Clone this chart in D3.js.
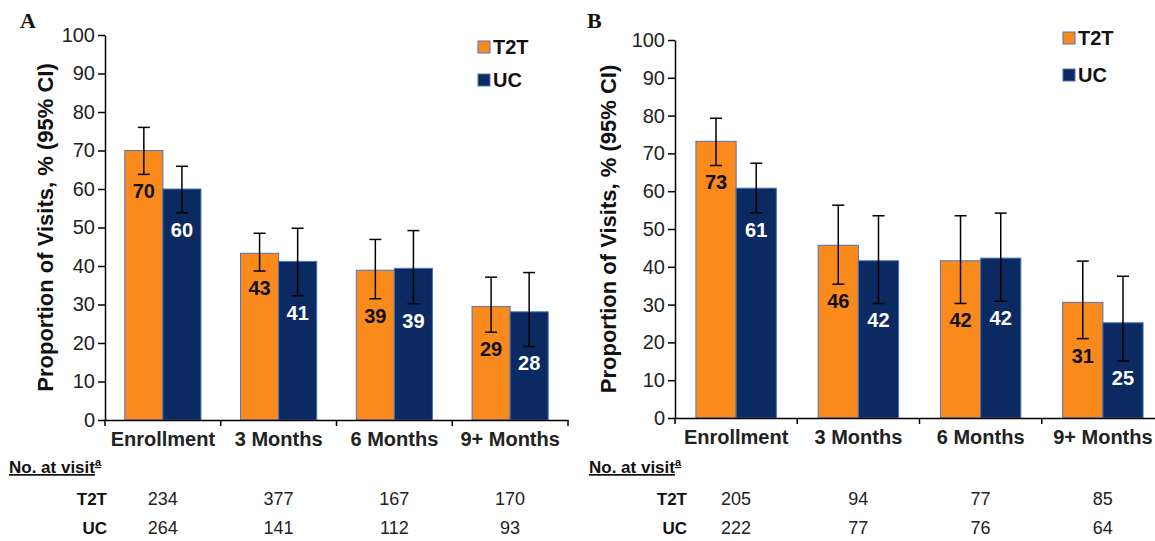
<!DOCTYPE html>
<html lang="en">
  <head>
    <meta charset="UTF-8" />
    <title>Proportion of Visits</title>
    <script src="https://d3js.org/d3.v7.min.js"></script>
    <style>
      body {
        margin: 0;
        padding: 0;
        background-color: #fff;
      }
      svg {
        display: block;
        font-family: "Liberation Sans", Arial, sans-serif;
      }
      .axis path,
      .axis line {
        stroke: #000;
        stroke-width: 1.5px;
      }
      .axis text {
        font-size: 20px;
        fill: #222;
      }
    </style>
  </head>
  <body>
    <div id="chart"></div>

    <script>
      const width = 1155;
      const height = 541;

      const categories = ["Enrollment", "3 Months", "6 Months", "9+ Months"];
      const seriesNames = ["T2T", "UC"];
      const yTicks = [0, 10, 20, 30, 40, 50, 60, 70, 80, 90, 100];

      // panel A
      const aT2T = [70, 43.3, 38.9, 29.5];
      const aT2TLow = [63.8, 38.7, 31.5, 22.8];
      const aT2THigh = [76, 48.5, 46.9, 37.1];
      const aUC = [60, 41.2, 39.4, 28.1];
      const aUCLow = [53.8, 32.3, 30.2, 19.1];
      const aUCHigh = [65.9, 49.8, 49.2, 38.3];
      const aT2TLabels = ["70", "43", "39", "29"];
      const aUCLabels = ["60", "41", "39", "28"];
      const aCountT2T = [234, 377, 167, 170];
      const aCountUC = [264, 141, 112, 93];

      // panel B
      const bT2T = [73.2, 45.7, 41.6, 30.6];
      const bT2TLow = [66.8, 35.4, 30.3, 21];
      const bT2THigh = [79.3, 56.3, 53.5, 41.5];
      const bUC = [60.8, 41.6, 42.3, 25.2];
      const bUCLow = [54.3, 30.3, 30.9, 15.1];
      const bUCHigh = [67.4, 53.5, 54.2, 37.5];
      const bT2TLabels = ["73", "46", "42", "31"];
      const bUCLabels = ["61", "42", "42", "25"];
      const bCountT2T = [205, 94, 77, 85];
      const bCountUC = [222, 77, 76, 64];

      const colors = { T2T: "#fa8a1c", UC: "#0b2a61" };
      const labelColors = { T2T: "#111", UC: "#fff" };

      const svg = d3.select("#chart").append("svg").attr("width", width).attr("height", height).attr("viewBox", [0, 0, width, height]);

      function drawPanel(p) {
        const g = svg.append("g");

        const x = d3.scaleBand().domain(categories).range([p.left, p.right]);
        const xSub = d3.scaleBand().domain(seriesNames).range([0, x.bandwidth()]).paddingOuter(0.52);
        const y = d3.scaleLinear().domain([0, 100]).range([p.bottom, p.top]);

        const rows = categories.map((c, i) => ({
          cat: c,
          bars: [
            { key: "T2T", v: p.t2t[i], lo: p.t2tLow[i], hi: p.t2tHigh[i], label: p.t2tLabels[i] },
            { key: "UC", v: p.uc[i], lo: p.ucLow[i], hi: p.ucHigh[i], label: p.ucLabels[i] },
          ],
        }));

        // y axis
        g.append("g")
          .attr("class", "axis")
          .attr("transform", `translate(${p.left},0)`)
          .call(d3.axisLeft(y).tickValues(yTicks).tickSize(7).tickPadding(3).tickSizeOuter(0));

        // bars
        const groups = g
          .selectAll(".grp")
          .data(rows)
          .enter()
          .append("g")
          .attr("transform", (d) => `translate(${x(d.cat)},0)`);

        const bar = groups
          .selectAll(".bar")
          .data((d) => d.bars)
          .enter()
          .append("g");

        bar
          .append("rect")
          .attr("x", (d) => xSub(d.key))
          .attr("y", (d) => y(d.v))
          .attr("width", xSub.bandwidth())
          .attr("height", (d) => y(0) - y(d.v))
          .attr("fill", (d) => colors[d.key])
          .attr("stroke", "#4f72b8")
          .attr("stroke-width", 1);

        // error bars
        const cx = (d) => xSub(d.key) + xSub.bandwidth() / 2;
        bar
          .append("line")
          .attr("x1", cx)
          .attr("x2", cx)
          .attr("y1", (d) => y(d.lo))
          .attr("y2", (d) => y(d.hi))
          .attr("stroke", "#000")
          .attr("stroke-width", 1.5);
        ["lo", "hi"].forEach((k) => {
          bar
            .append("line")
            .attr("x1", (d) => cx(d) - 6)
            .attr("x2", (d) => cx(d) + 6)
            .attr("y1", (d) => y(d[k]))
            .attr("y2", (d) => y(d[k]))
            .attr("stroke", "#000")
            .attr("stroke-width", 1.5);
        });

        // value labels, placed under the lower CI
        bar
          .append("text")
          .attr("x", cx)
          .attr("y", (d) => y(d.lo) + 24)
          .attr("text-anchor", "middle")
          .attr("font-size", 20)
          .attr("font-weight", "bold")
          .attr("fill", (d) => labelColors[d.key])
          .text((d) => d.label);

        // x axis
        const xAxis = g
          .append("g")
          .attr("class", "axis")
          .attr("transform", `translate(0,${p.bottom})`)
          .call(d3.axisBottom(x).tickSize(0).tickPadding(12).tickSizeOuter(0));
        xAxis.selectAll("text").attr("font-weight", "bold").attr("font-size", 18.5).attr("fill", "#111");
        xAxis
          .selectAll(".edge")
          .data(categories.concat([null]))
          .enter()
          .append("line")
          .attr("x1", (d, i) => p.left + i * x.step())
          .attr("x2", (d, i) => p.left + i * x.step())
          .attr("y1", 0)
          .attr("y2", 6)
          .attr("stroke", "#000")
          .attr("stroke-width", 1.5);

        // y title
        g.append("text")
          .attr("transform", `translate(${p.titleX},${(p.top + p.bottom) / 2}) rotate(-90)`)
          .attr("text-anchor", "middle")
          .attr("dy", "0.35em")
          .attr("font-size", 22)
          .attr("font-weight", "bold")
          .attr("fill", "#111")
          .text("Proportion of Visits, % (95% CI)");

        // panel letter
        g.append("text")
          .attr("x", p.letterX)
          .attr("y", 28)
          .attr("font-family", '"Liberation Serif", "Times New Roman", serif')
          .attr("font-weight", "bold")
          .attr("font-size", 22)
          .attr("fill", "#111")
          .text(p.letter);

        // legend
        const legend = g.append("g").attr("transform", `translate(${p.legendX},${p.legendY})`);
        seriesNames.forEach((s, i) => {
          legend
            .append("rect")
            .attr("x", 0)
            .attr("y", i * p.legendGap)
            .attr("width", 12)
            .attr("height", 12)
            .attr("fill", colors[s])
            .attr("stroke", "#4f72b8")
            .attr("stroke-width", 1);
          legend
            .append("text")
            .attr("x", 15)
            .attr("y", i * p.legendGap + 13)
            .attr("font-size", 20)
            .attr("font-weight", "bold")
            .attr("fill", "#111")
            .text(s);
        });

        // table of counts
        const head = g
          .append("text")
          .attr("x", p.tableLeft)
          .attr("y", 473)
          .attr("font-size", 17)
          .attr("font-weight", "bold")
          .attr("fill", "#111")
          .attr("text-decoration", "underline");
        head.append("tspan").text("No. at visit");
        head.append("tspan").attr("font-size", 11).attr("dy", -7).text("a");

        [
          ["T2T", p.countT2T, 505],
          ["UC", p.countUC, 534],
        ].forEach(([name, counts, yy]) => {
          g.append("text")
            .attr("x", p.tableRight)
            .attr("y", yy)
            .attr("text-anchor", "end")
            .attr("font-size", 17)
            .attr("font-weight", "bold")
            .attr("fill", "#111")
            .text(name);
          g.selectAll(null)
            .data(counts)
            .enter()
            .append("text")
            .attr("x", (d, i) => x(categories[i]) + x.bandwidth() / 2)
            .attr("y", yy)
            .attr("text-anchor", "middle")
            .attr("font-size", 18)
            .attr("fill", "#222")
            .text((d) => d);
        });
      }

      drawPanel({
        letter: "A",
        letterX: 20,
        left: 105,
        right: 568,
        top: 35,
        bottom: 420,
        titleX: 45,
        legendX: 478,
        legendY: 41,
        legendGap: 33,
        tableLeft: 9,
        tableRight: 107,
        t2t: aT2T,
        t2tLow: aT2TLow,
        t2tHigh: aT2THigh,
        uc: aUC,
        ucLow: aUCLow,
        ucHigh: aUCHigh,
        t2tLabels: aT2TLabels,
        ucLabels: aUCLabels,
        countT2T: aCountT2T,
        countUC: aCountUC,
      });

      drawPanel({
        letter: "B",
        letterX: 587,
        left: 675,
        right: 1164,
        top: 40,
        bottom: 418,
        titleX: 608,
        legendX: 1063,
        legendY: 32,
        legendGap: 37,
        tableLeft: 589,
        tableRight: 687,
        t2t: bT2T,
        t2tLow: bT2TLow,
        t2tHigh: bT2THigh,
        uc: bUC,
        ucLow: bUCLow,
        ucHigh: bUCHigh,
        t2tLabels: bT2TLabels,
        ucLabels: bUCLabels,
        countT2T: bCountT2T,
        countUC: bCountUC,
      });
    </script>
  </body>
</html>
